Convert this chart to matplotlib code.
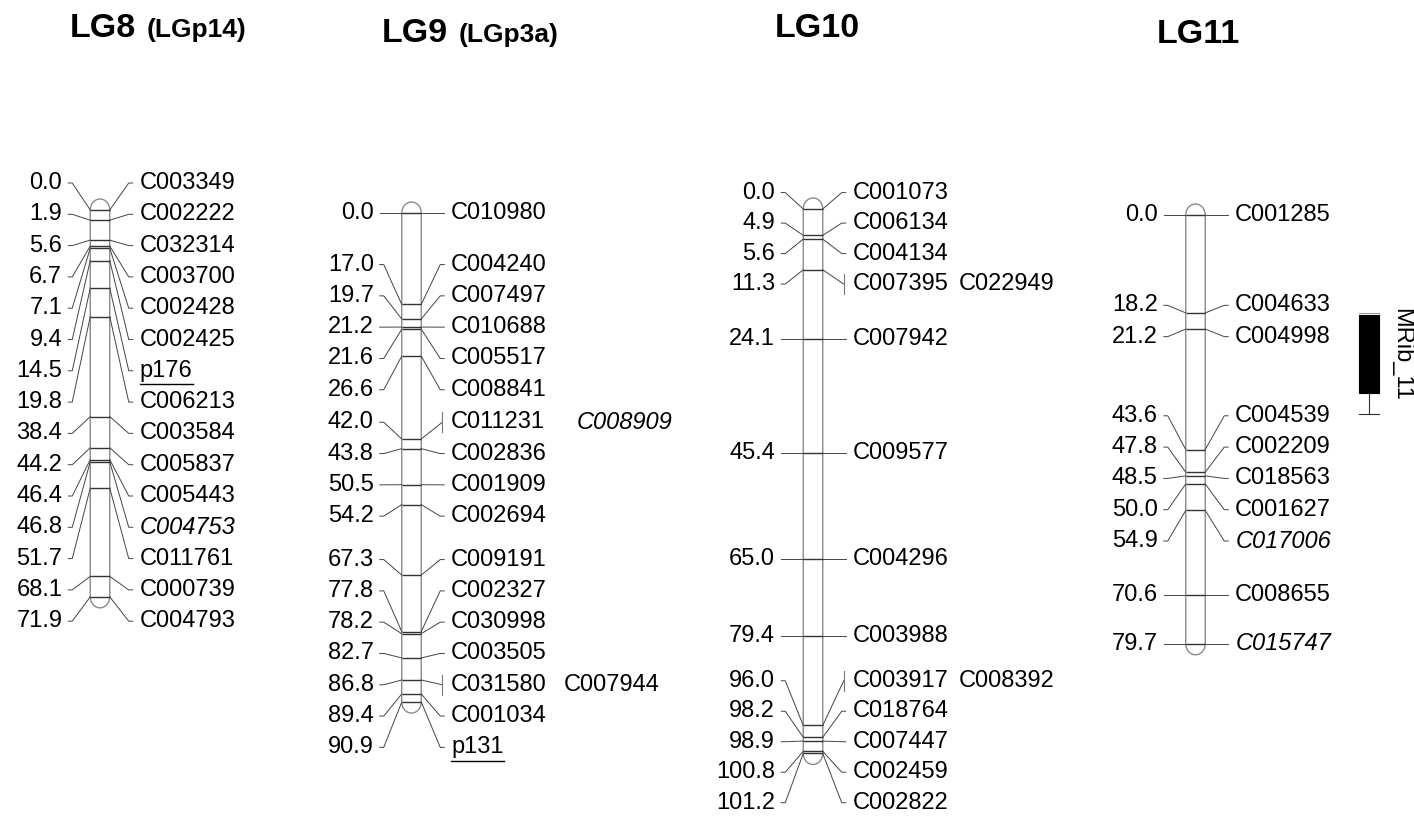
import matplotlib
matplotlib.use('Agg')
import matplotlib.pyplot as plt
import numpy as np
from matplotlib.patches import Polygon, Rectangle

plt.rcParams['font.family'] = ['Liberation Sans', 'DejaVu Sans']

# --- linkage map data (cM positions and marker names) ---
lg8_pos = [0.0, 1.9, 5.6, 6.7, 7.1, 9.4, 14.5, 19.8, 38.4, 44.2, 46.4, 46.8, 51.7, 68.1, 71.9]
lg8_names = ['C003349', 'C002222', 'C032314', 'C003700', 'C002428', 'C002425', 'p176',
             'C006213', 'C003584', 'C005837', 'C005443', 'C004753', 'C011761', 'C000739', 'C004793']

lg9_pos = [0.0, 17.0, 19.7, 21.2, 21.6, 26.6, 42.0, 43.8, 50.5, 54.2, 67.3, 77.8, 78.2,
           82.7, 86.8, 89.4, 90.9]
lg9_names = ['C010980', 'C004240', 'C007497', 'C010688', 'C005517', 'C008841', 'C011231 C008909',
             'C002836', 'C001909', 'C002694', 'C009191', 'C002327', 'C030998', 'C003505',
             'C031580 C007944', 'C001034', 'p131']

lg10_pos = [0.0, 4.9, 5.6, 11.3, 24.1, 45.4, 65.0, 79.4, 96.0, 98.2, 98.9, 100.8, 101.2]
lg10_names = ['C001073', 'C006134', 'C004134', 'C007395 C022949', 'C007942', 'C009577', 'C004296',
              'C003988', 'C003917 C008392', 'C018764', 'C007447', 'C002459', 'C002822']

lg11_pos = [0.0, 18.2, 21.2, 43.6, 47.8, 48.5, 50.0, 54.9, 70.6, 79.7]
lg11_names = ['C001285', 'C004633', 'C004998', 'C004539', 'C002209', 'C018563', 'C001627',
              'C017006', 'C008655', 'C015747']

italic_markers = ['C004753', 'C008909', 'C017006', 'C015747']
underlined_markers = ['p176', 'p131']

qtl_name = 'MRib_11'
qtl_lod1 = [18.6, 33.1]
qtl_lod2 = [18.2, 36.9]

W, H = 1414, 818
PX_PER_CM = 5.38
FS = 17
CHROM_W = 19.5
CAP_PX = 11

fig = plt.figure(figsize=(W / 100, H / 100), dpi=100)
renderer = fig.canvas.get_renderer()


def spread_labels(targets, sep, top):
    """Push overlapping labels apart, each block centred on its markers"""
    groups = []
    for t in targets:
        groups.append([t])
        while True:
            start = max(top, np.mean(groups[-1]) - (len(groups[-1]) - 1) * sep / 2)
            if len(groups) > 1:
                prev = groups[-2]
                prev_start = max(top, np.mean(prev) - (len(prev) - 1) * sep / 2)
                if start < prev_start + len(prev) * sep:
                    groups[-2] = prev + groups[-1]
                    groups.pop()
                    continue
            break
    out = []
    for g in groups:
        start = max(top, np.mean(g) - (len(g) - 1) * sep / 2)
        out += [start + i * sep for i in range(len(g))]
    return out


def draw_group(pos, names, cx, y0, name_gap, step=31.3):
    ax = fig.add_axes([0, 0, 1, 1])
    ax.set_xlim(0, W)
    ax.set_ylim((H - y0) / PX_PER_CM, -y0 / PX_PER_CM)
    ax.axis('off')

    half = CHROM_W / 2
    cap = CAP_PX / PX_PER_CM
    end = pos[-1]
    th = np.linspace(np.pi, 0, 40)
    top_x, top_y = cx + half * np.cos(th), -cap * np.sin(th)
    th2 = np.linspace(0, -np.pi, 40)
    bot_x, bot_y = cx + half * np.cos(th2), end - cap * np.sin(th2)
    outline = np.column_stack([np.concatenate([top_x, bot_x]), np.concatenate([top_y, bot_y])])
    ax.add_patch(Polygon(outline, closed=True, facecolor='white', edgecolor='#8a8a8a', lw=1.0))
    ax.hlines(pos, cx - half, cx + half, color='#333333', lw=1.0)

    sep = step / PX_PER_CM
    labels = spread_labels(pos, sep, -27 / PX_PER_CM)
    lw_c = 0.7
    col_c = '#444444'
    xl_text = cx - half - 28
    xr_text = cx + half + 30
    for p, lab, name in zip(pos, labels, names):
        # left: position
        ax.text(xl_text, lab, f'{p:.1f}', ha='right', va='center', fontsize=FS)
        ax.plot([xl_text + 6, xl_text + 10, cx - half], [lab, lab, p], color=col_c, lw=lw_c)
        # right: marker name(s)
        parts = name.split(' ')
        if len(parts) > 1:
            bx = xr_text - 9
            ax.plot([cx + half, bx], [p, lab], color=col_c, lw=lw_c)
            ax.plot([bx, bx], [lab - 10 / PX_PER_CM, lab + 10 / PX_PER_CM], color='#777777', lw=0.8)
        else:
            ax.plot([cx + half, xr_text - 11, xr_text - 7], [p, lab, lab], color=col_c, lw=lw_c)
        x = xr_text
        for i, part in enumerate(parts):
            style = 'italic' if part in italic_markers else 'normal'
            if i > 0:
                x += name_gap + (14 if style == 'italic' else 0)
            t = ax.text(x, lab, part, ha='left', va='center', fontsize=FS, style=style)
            bb = t.get_window_extent(renderer)
            if part in underlined_markers:
                uy = lab + 13.5 / PX_PER_CM
                ax.plot([bb.x0, bb.x1], [uy, uy], color='black', lw=1.0)
            x = bb.x1
    return ax


def title(x, y, main, sub=None):
    t = fig.text(x / W, 1 - y / H, main, fontsize=24.5, fontweight='bold', va='baseline')
    if sub:
        bb = t.get_window_extent(renderer)
        fig.text((bb.x1 + 10) / W, 1 - y / H, sub, fontsize=19, fontweight='bold', va='baseline')


draw_group(lg8_pos, lg8_names, 100, 210, 17)
draw_group(lg9_pos, lg9_names, 411.5, 213, 17)
draw_group(lg10_pos, lg10_names, 813, 209, 10, step=30.5)
ax11 = draw_group(lg11_pos, lg11_names, 1195.5, 215, 17)

# QTL bar on LG11
qx, qw = 1359, 20
ax11.add_patch(Rectangle((qx, qtl_lod1[0]), qw, qtl_lod1[1] - qtl_lod1[0], facecolor='black',
                         edgecolor='black', lw=0.8))
ax11.plot([qx + qw / 2, qx + qw / 2], [qtl_lod1[1], qtl_lod2[1]], color='#333333', lw=0.8)
ax11.plot([qx, qx + qw], [qtl_lod2[1], qtl_lod2[1]], color='#333333', lw=0.8)
ax11.plot([qx, qx + qw], [qtl_lod2[0], qtl_lod2[0]], color='#999999', lw=0.8)
ax11.text(1401, qtl_lod2[0] - 1.0, qtl_name, rotation=270, ha='center', va='top', fontsize=FS)

title(70, 37, 'LG8', '(LGp14)')
title(382, 42, 'LG9', '(LGp3a)')
title(775, 37, 'LG10')
title(1157, 43, 'LG11')

fig.savefig('out.png', dpi=100)
